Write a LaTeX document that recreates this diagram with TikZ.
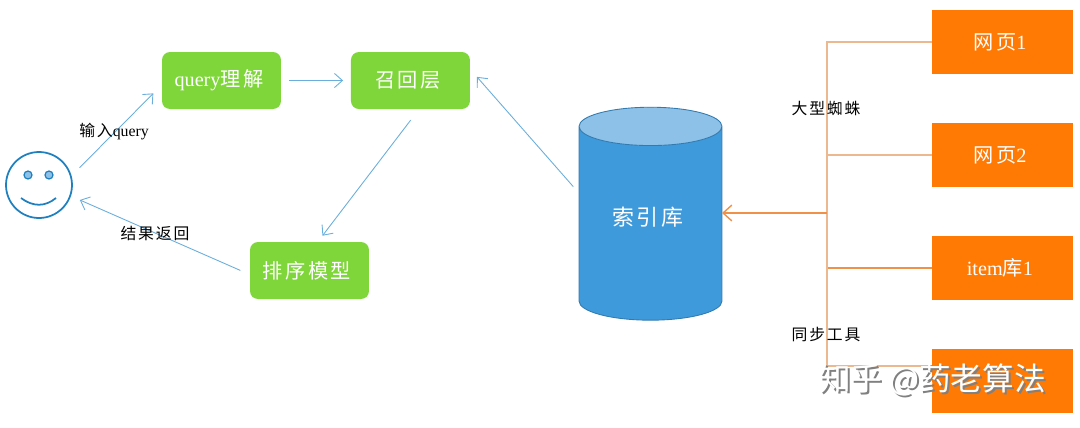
\documentclass[tikz,border=0pt]{standalone}
\usepackage{fontspec}
\setmainfont{Liberation Serif}
\newfontfamily\cjk[LetterSpace=12]{Noto Sans CJK SC}
\newfontfamily\cjkmark{Noto Sans CJK SC}
\usetikzlibrary{positioning,arrows.meta,shapes.geometric}
\definecolor{leaf}{HTML}{7ED63A}
\definecolor{carrot}{HTML}{FF7A05}
\definecolor{sea}{HTML}{3F9ADB}
\definecolor{seatop}{HTML}{8EC1E8}
\definecolor{wire}{HTML}{6AAEDC}
\definecolor{face}{HTML}{1F80C0}
\definecolor{treeline}{HTML}{EBB88F}
\definecolor{feedline}{HTML}{F0914A}
\newcommand{\zh}[1]{{\cjk #1}}
\begin{document}
\begin{tikzpicture}[x = .02cm, y = -.02cm,
    every node/.style = { align = center, inner sep = 0, outer sep = 0 },
    greenbox/.style = { fill = leaf, rounded corners = .16cm, text = white, minimum width = 2.38cm, minimum height = 1.14cm, font = \fontsize{11.5}{13}\selectfont },
    webbox/.style = { fill = carrot, text = white, minimum width = 2.82cm, minimum height = 1.28cm, font = \fontsize{11.5}{13}\selectfont },
    smalltext/.style = { font = \fontsize{9}{10}\selectfont },
    wirearrow/.style = { draw = wire, line width = .5pt, -{Straight Barb[length = 4.5pt, width = 8pt]} },
    treewire/.style = { draw = treeline, line width = .7pt },
    watermark/.style = { font = \fontsize{18}{20}\selectfont\cjkmark }]
    \useasboundingbox (0,0) rectangle (1080,427);

    \node [draw = face, line width = 1pt, shape = circle, minimum size = 1.32cm] (user) at (39,185) {};
    \node [draw = face, fill = seatop, line width = .7pt, shape = circle, minimum size = .16cm] (lefteye) at (28,175) {};
    \node [draw = face, fill = seatop, line width = .7pt, shape = circle, minimum size = .16cm] (righteye) at (49,175) {};
    \draw [face, line width = 1pt] (21,198) .. controls (33,207) and (45,207) .. (56,198);

    \node [greenbox] (query) at (221.5,80.5) { query\zh{理解} };
    \node [greenbox, right = 1.4cm of query] (recall) { \zh{召回层} };
    \node [greenbox] (rank) at (309.5,270.5) { \zh{排序模型} };

    \node [shape = cylinder, shape border rotate = 90, aspect = .5, draw = sea!80!black, line width = .5pt,
      cylinder uses custom fill, cylinder body fill = sea, cylinder end fill = seatop,
      minimum width = 2.86cm, minimum height = 4.26cm, text = white, font = \fontsize{12.5}{14}\selectfont] (index) at (650.5,223.5) { \raisebox{8pt}{\zh{索引库}} };

    \node [webbox] (web1) at (1002.5,42) { \zh{网页}1 };
    \node [webbox, below = .98cm of web1] (web2) { \zh{网页}2 };
    \node [webbox, below = .98cm of web2] (item) { item\zh{库}1 };
    \node [webbox, below = .98cm of item] (sync) {};

    \coordinate (hub) at (827,213);

    \draw [wirearrow, shorten <= 7pt, shorten >= 7pt] (user.15) -- (query.184);
    \draw [wirearrow, shorten <= 4.5pt, shorten >= 4.5pt] (query) -- (recall);
    \draw [wirearrow, shorten <= 8pt, shorten >= 4.5pt] (recall.287) -- (rank.74);
    \draw [wirearrow, shorten <= 6pt, shorten >= 6pt] (rank.184) -- (user.341);
    \draw [wirearrow, shorten <= 5pt, shorten >= 6pt] (index.157) -- (recall.11);

    \draw [treewire] (web1.west) -| (hub);
    \draw [treewire] (web2.west) -| (hub);
    \draw [treewire, draw = feedline] (item.west) -| (hub);
    \draw [treewire] (sync.168) -| (hub);
    \draw [draw = feedline, line width = .8pt, -{Straight Barb[length = 5pt, width = 9pt]}] (hub) -- (hub -| index.east);

    \node [smalltext] (inputlabel) at (116,132) { \zh{输入}query };
    \node [smalltext] (backlabel) at (157,233) { \zh{结果返回} };
    \node [smalltext] (spiderlabel) at (828,108) { \zh{大型蜘蛛} };
    \node [smalltext] (toollabel) at (828,334) { \zh{同步工具} };

    \node [watermark, text = black!50] (markshadow) at (938,382) { 知乎 @药老算法 };
    \node [watermark, text = white] (mark) at (936,380) { 知乎 @药老算法 };
\end{tikzpicture}
\end{document}
